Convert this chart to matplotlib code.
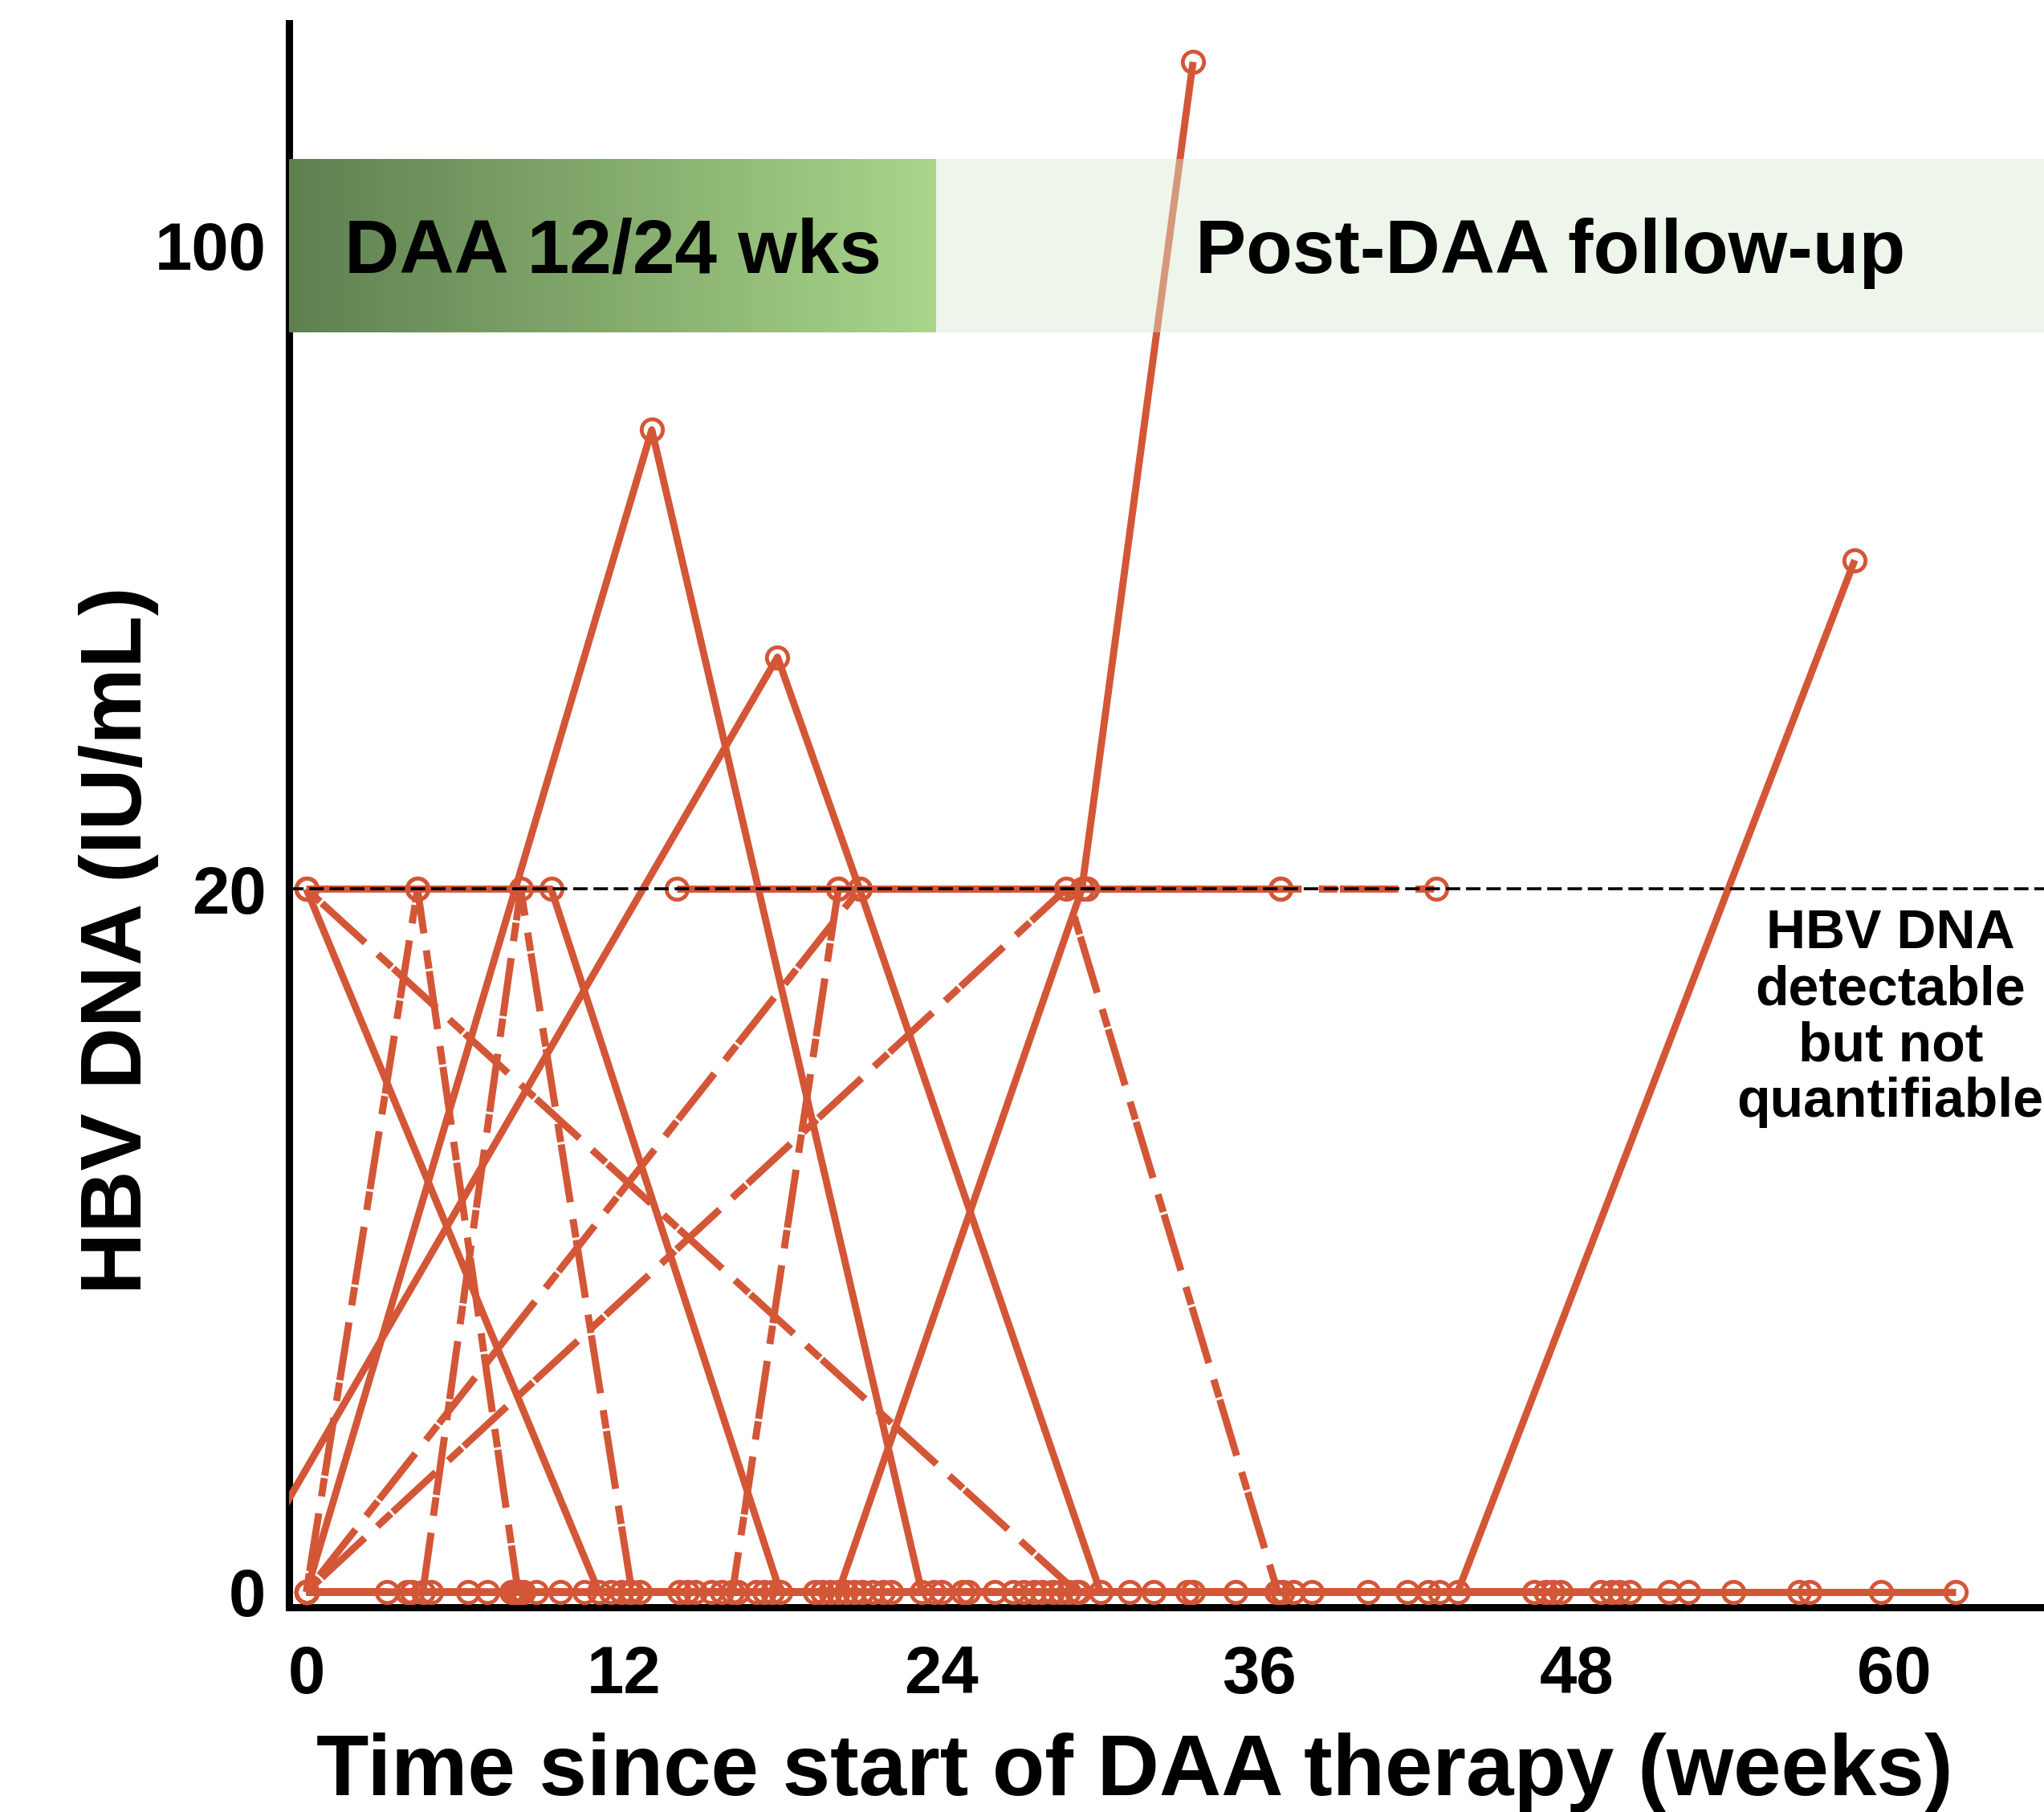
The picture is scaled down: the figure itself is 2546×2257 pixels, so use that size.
import numpy as np
import matplotlib
matplotlib.use("Agg")
import matplotlib.pyplot as plt
from matplotlib.patches import Rectangle

plt.rcParams["font.family"] = ["Liberation Sans", "DejaVu Sans"]
plt.rcParams["font.weight"] = "bold"

# ---------------- data (weeks, HBV DNA IU/mL) ----------------
# patients with a detectable blip -- solid lines
pA_weeks = [-2.7, 17.8, 20.9, 30.0, 38.0, 49.3]
pA_vals = [0, 35.7, 20, 0, 0, 0]
pB_weeks = [0, 13.05, 23.25, 35.1, 47.1]
pB_vals = [0, 63, 0, 0, 0]
pC_weeks = [0, 8.7, 14.4, 20.1, 29.3, 33.5]
pC_vals = [0, 0, 0, 0, 20, 158]
pD_weeks = [0, 12.2, 24.0, 32.0, 37.3, 43.5, 58.5]
pD_vals = [0, 0, 0, 0, 0, 0, 45.5]
pE_weeks = [0, 11.05, 21.4, 31.1, 46.8]
pE_vals = [20, 0, 0, 0, 0]
pY_weeks = [0, 4.2, 9.25, 17.9, 27.1, 40.1, 51.5]
pY_vals = [20, 20, 20, 0, 0, 0, 0]
pZ_weeks = [14.0, 20.1, 29.5, 36.8]
pZ_vals = [20, 20, 20, 20]
# patients always undetectable -- solid lines
z1_weeks = [0, 3.05, 6.85, 11.5, 15.3, 19.2, 23.7, 27.5, 33.3, 42.4, 50.0, 62.3]
z2_weeks = [0, 3.8, 7.75, 11.9, 15.7, 19.5, 24.8, 28.2, 36.65, 46.4, 56.4, 59.5]
z3_weeks = [0, 4.0, 7.9, 9.6, 14.1, 19.8, 25.0, 28.5, 36.9, 48.9, 56.8]
z4_weeks = [0, 6.1, 8.05, 14.7, 17.3, 20.7, 26.7, 28.8, 33.5, 42.8, 47.4, 52.2, 53.9]
z5_weeks = [0, 8.2, 17.6, 21.0, 22.1, 27.8, 29.2, 49.6]
# dashed-line patients
d1_weeks = [0, 20.9, 29.5, 36.8, 42.7]
d1_vals = [0, 20, 20, 20, 20]
d2_weeks = [0, 28.7, 36.7]
d2_vals = [0, 20, 0]
d3_weeks = [0, 4.7, 10.5, 16.1, 20.1]
d3_vals = [0, 0, 0, 0, 20]
d4_weeks = [0, 29.1, 41.6]
d4_vals = [20, 0, 0]
d5_weeks = [0, 4.2, 8.0, 12.6, 16.3, 20.4]
d5_vals = [0, 20, 0, 0, 0, 0]
d6_weeks = [0, 4.4, 8.1, 12.3, 17.0, 21.8, 26.0]
d6_vals = [0, 0, 20, 0, 0, 0, 0]

lloq = 20
y_ticks = [0, 20, 100]
x_ticks = [0, 12, 24, 36, 48, 60]
daa_end = 23.8

solid_series = [
    (pA_weeks, pA_vals), (pB_weeks, pB_vals), (pC_weeks, pC_vals),
    (pD_weeks, pD_vals), (pE_weeks, pE_vals), (pY_weeks, pY_vals),
    (pZ_weeks, pZ_vals),
    (z1_weeks, [0] * len(z1_weeks)), (z2_weeks, [0] * len(z2_weeks)),
    (z3_weeks, [0] * len(z3_weeks)), (z4_weeks, [0] * len(z4_weeks)),
    (z5_weeks, [0] * len(z5_weeks)),
]
dashed_series = [
    (d1_weeks, d1_vals), (d2_weeks, d2_vals), (d3_weeks, d3_vals),
    (d4_weeks, d4_vals), (d5_weeks, d5_vals), (d6_weeks, d6_vals),
]

# ---------------- scale: linear 0-20, log above ----------------
K = 1.311


def fwd(y):
    y = np.asarray(y, dtype=float)
    return np.where(y <= 20, y / 20.0, 1 + K * np.log10(np.maximum(y, 20) / 20.0))


def inv(t):
    t = np.asarray(t, dtype=float)
    return np.where(t <= 1, t * 20.0, 20.0 * 10 ** ((np.maximum(t, 1) - 1) / K))


RED = "#D35637"
W, H = 2546, 2257
fig = plt.figure(figsize=(W / 100, H / 100), dpi=100)
left, right, bottom, top = 360.5, 2546, 2002.4, 29
ax = fig.add_axes([left / W, 1 - bottom / H, (right - left) / W, (bottom - top) / H])
ax.set_yscale("function", functions=(fwd, inv))
ax.set_xlim(-0.64, 65.65)
ax.set_ylim(-0.445, 174)

LW = 6.4
dash_pat = (0, (2.6, 0.35, 8.2, 2.4))
for wk, vl in solid_series:
    ax.plot(wk, vl, color=RED, lw=LW, ls="-", marker="o", ms=19, mfc="none",
            mec=RED, mew=3.5, zorder=3, solid_capstyle="butt")
for wk, vl in dashed_series:
    ax.plot(wk, vl, color=RED, lw=LW, ls=dash_pat, marker="o", ms=19, mfc="none",
            mec=RED, mew=3.5, zorder=3, dash_capstyle="butt")

ax.axhline(lloq, color="black", lw=2.6, ls=(0, (5.0, 2.0)), zorder=4)

# bands
band_lo, band_hi = 80.4, 124
x0 = -0.64
n = 240
dx = (daa_end - x0) / n
c0 = np.array([95, 128, 80]) / 255
c1 = np.array([168, 213, 138]) / 255
for i in range(n):
    col = c0 + (c1 - c0) * i / (n - 1)
    ax.add_patch(Rectangle((x0 + i * dx, band_lo), dx * 1.05, band_hi - band_lo,
                           facecolor=col, edgecolor="none", zorder=5))
ax.add_patch(Rectangle((daa_end, band_lo), 50, band_hi - band_lo,
                       facecolor=(219 / 255, 233 / 255, 209 / 255), alpha=0.45,
                       edgecolor="none", zorder=5))

ax.text(11.58, 93.3, "DAA 12/24 wks", ha="center", va="baseline", fontsize=68,
        fontweight="bold", zorder=6)
ax.text(47.0, 93.3, "Post-DAA follow-up", ha="center", va="baseline", fontsize=68,
        fontweight="bold", zorder=6)
ax.text(59.85, 19.45, "HBV DNA\ndetectable\nbut not\nquantifiable", ha="center",
        va="top", fontsize=49, fontweight="bold", linespacing=1.12, zorder=6,
        clip_on=False)

ax.set_yticks(y_ticks)
ax.set_yticklabels([str(v) for v in y_ticks])
ax.set_xticks(x_ticks)
ax.set_xticklabels([str(v) for v in x_ticks])
ax.yaxis.set_minor_locator(matplotlib.ticker.NullLocator())
ax.tick_params(axis="y", length=0, pad=21, labelsize=60)
ax.tick_params(axis="x", length=0, pad=33, labelsize=60)
for lab in ax.get_xticklabels() + ax.get_yticklabels():
    lab.set_fontweight("bold")

for s in ["top", "right"]:
    ax.spines[s].set_visible(False)
for s in ["left", "bottom"]:
    ax.spines[s].set_linewidth(6.5)
    ax.spines[s].set_capstyle("projecting")

fig.text(176 / W, 1 - 1171 / H, "HBV DNA (IU/mL)", rotation=90, rotation_mode="anchor",
         ha="center", va="baseline", fontsize=77, fontweight="bold")
fig.text(1413 / W, 1 - 2236 / H, "Time since start of DAA therapy (weeks)", ha="center",
         va="baseline", fontsize=77, fontweight="bold")

fig.savefig("out.png", dpi=100)
